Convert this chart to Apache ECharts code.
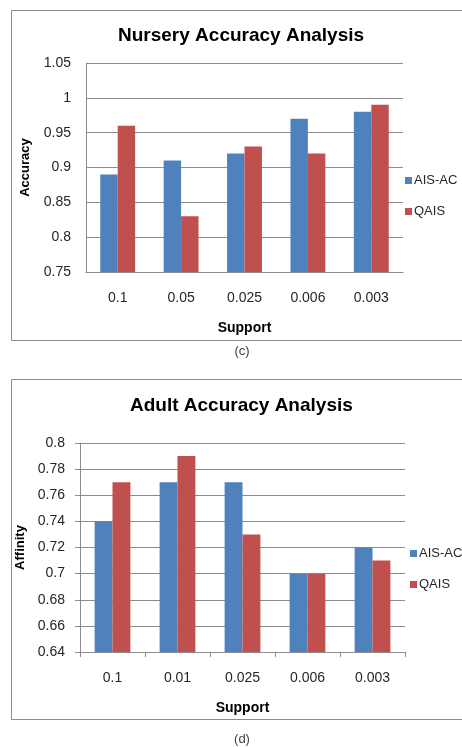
<!DOCTYPE html>
<html><head><meta charset="utf-8">
<script src="https://cdn.jsdelivr.net/npm/echarts@6/dist/echarts.min.js"></script>
<style>html,body{margin:0;padding:0;background:#fff}#c{width:462px;height:747px}</style>
</head><body><div id="c"></div>
<script>
const seriesNames = ['AIS-AC', 'QAIS'];
const nurseryCategories = ['0.1', '0.05', '0.025', '0.006', '0.003'];
const nurseryAisAc = [0.89, 0.91, 0.92, 0.97, 0.98];
const nurseryQais = [0.96, 0.83, 0.93, 0.92, 0.99];
const adultCategories = ['0.1', '0.01', '0.025', '0.006', '0.003'];
const adultAisAc = [0.74, 0.77, 0.77, 0.70, 0.72];
const adultQais = [0.77, 0.79, 0.73, 0.70, 0.71];
const nurseryYRange = [0.75, 1.05, 0.05];
const adultYRange = [0.64, 0.80, 0.02];

const FONT = 'Liberation Sans';
const BLUE = '#4F81BD', RED = '#C0504D';
const txt = '#262626';

function xAx(idx, cats, ticks) {
  return {
    type: 'category', gridIndex: idx, data: cats,
    name: 'Support', nameLocation: 'middle', nameGap: 49,
    nameTextStyle: {fontFamily: FONT, fontSize: 14, fontWeight: 'bold', color: '#000'},
    axisLine: {lineStyle: {color: '#8c8c8c', width: 1}},
    axisTick: {show: ticks, length: 5, lineStyle: {color: '#8c8c8c'}},
    axisLabel: {fontFamily: FONT, fontSize: 14, color: txt, margin: 19}
  };
}
function yAx(idx, r, name, gap, ticks) {
  return {
    type: 'value', gridIndex: idx, min: r[0], max: r[1], interval: r[2],
    name: name, nameLocation: 'middle', nameGap: gap, nameRotate: 90,
    nameTextStyle: {fontFamily: FONT, fontSize: 13, fontWeight: 'bold', color: '#000'},
    axisLine: {show: true, lineStyle: {color: '#8c8c8c', width: 1}},
    axisTick: {show: ticks, length: 5, lineStyle: {color: '#8c8c8c'}},
    splitLine: {lineStyle: {color: '#8c8c8c', width: 1}},
    axisLabel: {fontFamily: FONT, fontSize: 14, color: txt, margin: 15}
  };
}
function bar(name, data, color, idx) {
  return {
    type: 'bar', name: name, data: data, xAxisIndex: idx, yAxisIndex: idx,
    itemStyle: {color: color}, barGap: '0%', barCategoryGap: '45%'
  };
}
function legend(top, left) {
  return {
    orient: 'vertical', left: left, top: top, itemWidth: 7, itemHeight: 7,
    itemGap: 18, icon: 'rect', data: seriesNames, padding: 0,
    textStyle: {fontFamily: FONT, fontSize: 13, color: txt, padding: [0, 0, 0, -3]}
  };
}

const chart = echarts.init(document.getElementById('c'));
chart.setOption({
  backgroundColor: '#fff',
  animation: false,
  title: [
    {text: 'Nursery Accuracy Analysis', left: 118, top: 26, padding: 0,
     textStyle: {fontFamily: FONT, fontSize: 19, fontWeight: 'bold', color: '#000'}},
    {text: 'Adult Accuracy Analysis', left: 130, top: 396, padding: 0,
     textStyle: {fontFamily: FONT, fontSize: 19, fontWeight: 'bold', color: '#000'}}
  ],
  legend: [legend(174, 405), legend(547, 410)],
  grid: [
    {left: 86, right: 59, top: 63, height: 209},
    {left: 80, right: 57, top: 443, height: 209}
  ],
  xAxis: [xAx(0, nurseryCategories, false), xAx(1, adultCategories, true)],
  yAxis: [yAx(0, nurseryYRange, 'Accuracy', 54, false), yAx(1, adultYRange, 'Affinity', 51, true)],
  series: [
    bar(seriesNames[0], nurseryAisAc, BLUE, 0),
    bar(seriesNames[1], nurseryQais, RED, 0),
    bar(seriesNames[0], adultAisAc, BLUE, 1),
    bar(seriesNames[1], adultQais, RED, 1)
  ],
  graphic: [
    {type: 'rect', shape: {x: 11.5, y: 10.5, width: 480, height: 330}, style: {fill: null, stroke: '#8c8c8c', lineWidth: 1}, silent: true},
    {type: 'rect', shape: {x: 11.5, y: 379.5, width: 480, height: 340}, style: {fill: null, stroke: '#8c8c8c', lineWidth: 1}, silent: true},
    {type: 'text', x: 242, y: 351, style: {text: '(c)', fontFamily: FONT, fontSize: 13, fill: '#404040', align: 'center', verticalAlign: 'middle'}},
    {type: 'text', x: 242, y: 739, style: {text: '(d)', fontFamily: FONT, fontSize: 13, fill: '#404040', align: 'center', verticalAlign: 'middle'}}
  ]
});
</script></body></html>
